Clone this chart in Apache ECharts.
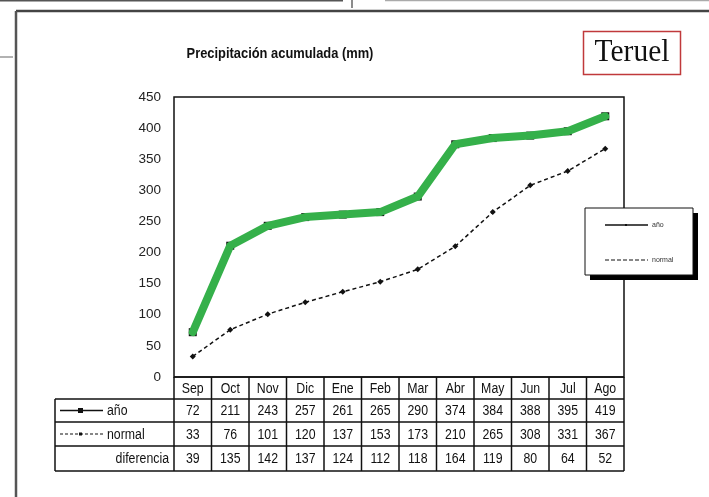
<!DOCTYPE html>
<html><head><meta charset="utf-8">
<script src="https://cdn.jsdelivr.net/npm/echarts@6/dist/echarts.min.js"></script>
<style>html,body{margin:0;padding:0;background:#fff}#c{width:709px;height:497px}</style>
</head><body><div id="c"></div>
<script>
var months = ['Sep','Oct','Nov','Dic','Ene','Feb','Mar','Abr','May','Jun','Jul','Ago'];
var anio = [72,211,243,257,261,265,290,374,384,388,395,419];
var normal = [33,76,101,120,137,153,173,210,265,308,331,367];
var diferencia = [39,135,142,137,124,112,118,164,119,80,64,52];
var yTicks = [0,450,50];

var chart = echarts.init(document.getElementById('c'), null, {renderer:'canvas'});
var GL=174, GT=97, GW=450, GH=280;
var FONT = 'Liberation Sans, Arial, sans-serif';
var option = {
  animation:false,
  backgroundColor:'#fff',
  grid:{left:GL, top:GT, width:GW, height:GH, show:true, borderColor:'#111', borderWidth:1.5, backgroundColor:'transparent'},
  xAxis:{type:'category', data:months, boundaryGap:true, axisLine:{show:false}, axisTick:{show:false}, axisLabel:{show:false}, splitLine:{show:false}},
  yAxis:{type:'value', min:yTicks[0], max:yTicks[1], interval:yTicks[2], axisLine:{show:false}, axisTick:{show:false}, splitLine:{show:false},
    axisLabel:{color:'#222', fontSize:13.5, fontFamily:FONT, margin:13}},
  series:[
    {name:'normal', type:'line', data:normal, symbol:'diamond', symbolSize:6, itemStyle:{color:'#111'}, lineStyle:{color:'#111', width:1.5, type:[4,3]}, z:2},
    {name:'año', type:'line', data:anio, symbol:'rect', symbolSize:8, itemStyle:{color:'#111'}, lineStyle:{color:'#111', width:1}, z:3},
    {name:'año-verde', type:'line', data:anio, symbol:'none', lineStyle:{color:'#35b04a', width:8, cap:'round', join:'round'}, z:4}
  ]
};
chart.setOption(option);

var g = [];
function line(x1,y1,x2,y2,st){ g.push({type:'line', shape:{x1:x1,y1:y1,x2:x2,y2:y2}, style:Object.assign({stroke:'#111', lineWidth:1},st||{}), z:50}); }
function text(x,y,t,st,sx){ g.push({type:'text', x:x, y:y, scaleX:sx||1, style:Object.assign({text:t, fill:'#111', font:'14px '+FONT, textAlign:'center', textVerticalAlign:'middle'},st||{}), z:51}); }

// frame artifacts
line(0,0.5,343,0.5,{stroke:'#555',lineWidth:2});
line(352,0,352,8,{stroke:'#666',lineWidth:1.5});
line(385,0.5,709,0.5,{stroke:'#aaa',lineWidth:1.5});
line(16,11,709,11,{stroke:'#444',lineWidth:2.5});
line(16,11,16,497,{stroke:'#555',lineWidth:2.5});
line(0,57,13,57,{stroke:'#999',lineWidth:1.5});

// title
text(280,54,'Precipitación acumulada (mm)',{font:'bold 14px '+FONT},0.92);
// Teruel box
g.push({type:'rect', shape:{x:583.5,y:31.5,width:97,height:43}, style:{fill:'#fff', stroke:'#c0393b', lineWidth:1.5}, z:50});
text(632,53,'Teruel',{font:'31px "Liberation Serif", "Times New Roman", serif', fill:'#111'},0.95);

// table
var colW = GW/months.length;
var rows = [377,399,422,446,471];
var TL = 55;
var SX = 0.88;
line(GL,rows[0],GL+GW,rows[0],{lineWidth:1.5});
for (var r=1;r<rows.length;r++) line(TL,rows[r],GL+GW,rows[r],{lineWidth:1.5});
line(TL,rows[1],TL,rows[4],{lineWidth:1.5});
for (var i=0;i<=months.length;i++){ var x=GL+i*colW; line(x,rows[0],x,rows[4],{lineWidth:1.5}); }
var rowData=[anio,normal,diferencia];
for (var i=0;i<months.length;i++){
  var cx = chart.convertToPixel({xAxisIndex:0}, months[i]);
  text(cx,(rows[0]+rows[1])/2+1,months[i],null,SX);
  for (var r=0;r<3;r++) text(cx,(rows[r+1]+rows[r+2])/2+1,String(rowData[r][i]),null,SX);
}
// row labels
line(60,(rows[1]+rows[2])/2,103,(rows[1]+rows[2])/2,{lineWidth:1.5});
g.push({type:'rect', shape:{x:78,y:(rows[1]+rows[2])/2-2.5,width:5,height:5}, style:{fill:'#111'}, z:52});
text(107,(rows[1]+rows[2])/2+1,'año',{textAlign:'left'},SX);
line(60,(rows[2]+rows[3])/2,103,(rows[2]+rows[3])/2,{lineWidth:1.2,lineDash:[3,2]});
g.push({type:'rect', shape:{x:79,y:(rows[2]+rows[3])/2-1.5,width:3,height:3}, style:{fill:'#111'}, z:52});
text(107,(rows[2]+rows[3])/2+1,'normal',{textAlign:'left'},SX);
text(169,(rows[3]+rows[4])/2+1,'diferencia',{textAlign:'right'},SX);

// legend box with shadow
g.push({type:'rect', shape:{x:590,y:213,width:108,height:67}, style:{fill:'#000'}, z:60});
g.push({type:'rect', shape:{x:585,y:208,width:108,height:67}, style:{fill:'#fff', stroke:'#111', lineWidth:1}, z:61});
g.push({type:'line', shape:{x1:605,y1:225,x2:648,y2:225}, style:{stroke:'#111', lineWidth:1.5}, z:62});
g.push({type:'rect', shape:{x:625,y:224,width:2,height:2}, style:{fill:'#111'}, z:62});
g.push({type:'text', x:652, y:225, style:{text:'año', fill:'#333', font:'7px '+FONT, textVerticalAlign:'middle'}, z:62});
g.push({type:'line', shape:{x1:605,y1:260,x2:648,y2:260}, style:{stroke:'#111', lineWidth:1.2, lineDash:[4,2]}, z:62});
g.push({type:'text', x:652, y:260, style:{text:'normal', fill:'#333', font:'7px '+FONT, textVerticalAlign:'middle'}, z:62});

chart.setOption({graphic:{elements:g}});
</script></body></html>
